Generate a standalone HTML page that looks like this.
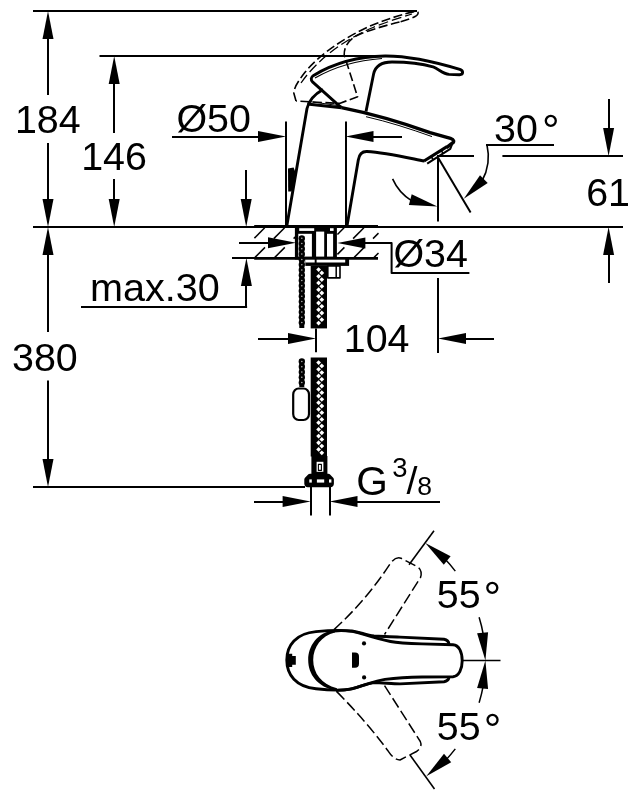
<!DOCTYPE html>
<html><head><meta charset="utf-8"><title>Dimensional drawing</title>
<style>
html,body{margin:0;padding:0;background:#fff}
svg{display:block;filter:grayscale(1)}
svg text{font-family:"Liberation Sans",sans-serif;fill:#000;stroke:none}
</style></head><body>
<svg width="636" height="804" viewBox="0 0 636 804" fill="none" stroke="#000" stroke-linecap="butt" stroke-linejoin="round">
<rect x="0" y="0" width="636" height="804" fill="#fff" stroke="none"/>
<line x1="33" y1="11" x2="417" y2="11" stroke-width="2" />
<line x1="99.5" y1="56" x2="378" y2="56" stroke-width="2" />
<line x1="33" y1="227" x2="623" y2="227" stroke-width="2" />
<line x1="33" y1="487" x2="305" y2="487" stroke-width="2" />
<polygon points="48.0,11.0 53.5,39.0 42.5,39.0" fill="#000" stroke="none"/>
<polygon points="48.0,227.0 42.5,199.0 53.5,199.0" fill="#000" stroke="none"/>
<line x1="48" y1="30" x2="48" y2="95" stroke-width="2" />
<line x1="48" y1="143" x2="48" y2="210" stroke-width="2" />
<polygon points="114.2,56.0 119.7,84.0 108.7,84.0" fill="#000" stroke="none"/>
<polygon points="114.2,227.0 108.7,199.0 119.7,199.0" fill="#000" stroke="none"/>
<line x1="114" y1="80" x2="114" y2="133" stroke-width="2" />
<line x1="114" y1="179" x2="114" y2="210" stroke-width="2" />
<polygon points="48.0,227.0 53.5,255.0 42.5,255.0" fill="#000" stroke="none"/>
<polygon points="48.0,487.0 42.5,459.0 53.5,459.0" fill="#000" stroke="none"/>
<line x1="48" y1="250" x2="48" y2="332" stroke-width="2" />
<line x1="48" y1="380.5" x2="48" y2="470" stroke-width="2" />
<line x1="172" y1="137" x2="270" y2="137" stroke-width="2" />
<polygon points="286.0,136.6 258.0,142.1 258.0,131.1" fill="#000" stroke="none"/>
<line x1="286" y1="121.5" x2="286" y2="226" stroke-width="2" />
<line x1="346" y1="121.5" x2="346" y2="226" stroke-width="2" />
<polygon points="345.5,136.6 373.5,131.1 373.5,142.1" fill="#000" stroke="none"/>
<line x1="365" y1="137" x2="402" y2="137" stroke-width="2" />
<polygon points="246.2,227.0 240.7,199.0 251.7,199.0" fill="#000" stroke="none"/>
<line x1="246" y1="170" x2="246" y2="210" stroke-width="2" />
<polygon points="246.4,258.0 251.9,286.0 240.9,286.0" fill="#000" stroke="none"/>
<line x1="246" y1="280" x2="246" y2="307" stroke-width="2" />
<line x1="81" y1="307" x2="247.1" y2="307" stroke-width="2" />
<line x1="232" y1="258" x2="256" y2="258" stroke-width="2" />
<line x1="239" y1="243" x2="280" y2="243" stroke-width="2" />
<polygon points="296.0,242.8 268.0,248.3 268.0,237.3" fill="#000" stroke="none"/>
<polygon points="337.4,243.0 365.4,237.5 365.4,248.5" fill="#000" stroke="none"/>
<path d="M355 243H391.6V272.9H469.4" stroke-width="2" />
<line x1="316" y1="328.4" x2="316" y2="352.3" stroke-width="2" />
<line x1="258" y1="339" x2="300" y2="339" stroke-width="2" />
<polygon points="316.0,338.6 288.0,344.1 288.0,333.1" fill="#000" stroke="none"/>
<line x1="438" y1="278" x2="438" y2="353" stroke-width="2" />
<polygon points="438.0,338.6 466.0,333.1 466.0,344.1" fill="#000" stroke="none"/>
<line x1="460" y1="339" x2="494" y2="339" stroke-width="2" />
<line x1="437" y1="156" x2="474" y2="156" stroke-width="2" />
<line x1="502.4" y1="156" x2="623" y2="156" stroke-width="2" />
<polygon points="608.6,156.0 603.1,128.0 614.1,128.0" fill="#000" stroke="none"/>
<line x1="609" y1="99" x2="609" y2="140" stroke-width="2" />
<polygon points="608.6,227.0 614.1,255.0 603.1,255.0" fill="#000" stroke="none"/>
<line x1="609" y1="250" x2="609" y2="283" stroke-width="2" />
<line x1="486" y1="145" x2="554" y2="145" stroke-width="2" />
<line x1="438" y1="158" x2="438" y2="221.4" stroke-width="2" />
<line x1="438" y1="157.5" x2="470.6" y2="212.5" stroke-width="2" />
<line x1="311" y1="487" x2="311" y2="515.5" stroke-width="2" />
<line x1="330" y1="487" x2="330" y2="515.5" stroke-width="2" />
<line x1="254" y1="502" x2="300" y2="502" stroke-width="2" />
<polygon points="310.6,501.6 282.6,507.1 282.6,496.1" fill="#000" stroke="none"/>
<polygon points="329.5,501.6 357.5,496.1 357.5,507.1" fill="#000" stroke="none"/>
<line x1="350" y1="502" x2="440" y2="502" stroke-width="2" />
<text x="14.9" y="132.8" font-size="39.4" text-anchor="start" >184</text>
<text x="81.2" y="170.4" font-size="39.4" text-anchor="start" >146</text>
<text x="176.4" y="131.8" font-size="39.4" text-anchor="start" >Ø50</text>
<text x="494" y="141.6" font-size="39.4" text-anchor="start" >30</text>
<text x="542" y="146.4" font-size="44" text-anchor="start" >°</text>
<text x="586.2" y="205.8" font-size="39.4" text-anchor="start" >61</text>
<text x="393.4" y="266.9" font-size="39.4" text-anchor="start" >Ø34</text>
<text x="90" y="300.8" font-size="39.6" text-anchor="start" >max.30</text>
<text x="343.8" y="351.9" font-size="39.4" text-anchor="start" >104</text>
<text x="12" y="371" font-size="39.4" text-anchor="start" >380</text>
<text x="356.2" y="494.9" font-size="40.6" text-anchor="start" >G</text>
<text x="392.2" y="477.2" font-size="27.4" text-anchor="start" >3</text>
<text x="417.2" y="494.7" font-size="26.5" text-anchor="start" >8</text>
<text x="406.4" y="494.2" font-size="39.4" text-anchor="start" >/</text>
<text x="436.8" y="608.4" font-size="39.4" text-anchor="start" >55</text>
<text x="483.5" y="613.2" font-size="44" text-anchor="start" >°</text>
<text x="436.8" y="739.9" font-size="39.4" text-anchor="start" >55</text>
<text x="483.8" y="745.4" font-size="44" text-anchor="start" >°</text>
<path d="M392.6 178.9A49 49 0 0 0 411.4 200.6" stroke-width="1.6" />
<polygon points="437.4,206.6 408.9,204.9 411.7,194.3" fill="#000" stroke="none"/>
<path d="M487 145C490 158 488 170 482 181" stroke-width="1.6" />
<polygon points="463.8,198.8 480.0,175.3 487.7,183.1" fill="#000" stroke="none"/>
<line x1="409" y1="564.8" x2="434" y2="530.8" stroke-width="1.6" />
<line x1="410" y1="755" x2="434.5" y2="789" stroke-width="1.6" />
<polygon points="425.3,543.0 450.6,556.2 443.8,564.8" fill="#000" stroke="none"/>
<path d="M444.5 558.6A146 146 0 0 1 455.3 571.1" stroke-width="1.5" />
<path d="M479.1 617.3A146 146 0 0 1 483.3 634.6" stroke-width="1.5" />
<polygon points="485.4,660.6 477.1,633.3 488.1,632.2" fill="#000" stroke="none"/>
<line x1="462.5" y1="660.6" x2="500.5" y2="660.6" stroke-width="1.5" />
<polygon points="485.4,660.6 488.1,689.0 477.1,687.9" fill="#000" stroke="none"/>
<path d="M483.3 685.4A146 146 0 0 1 479.1 702.7" stroke-width="1.5" />
<path d="M455.3 748.9A146 146 0 0 1 444.5 761.4" stroke-width="1.5" />
<polygon points="426.3,776.2 444.0,753.8 451.2,762.2" fill="#000" stroke="none"/>
<path d="M286.8 226 L307 108.5 C308.8 100.5 315 94 323 89.5" stroke-width="2.9" />
<path d="M307.3 104 L341.5 107.8" stroke-width="2.9" />
<path d="M309 101.5 L341.5 106" stroke-width="1.2" />
<path d="M341.5 107.6 C365 112.3 395 120 430 132.6 L450.5 138.4 C454 139.5 454.6 141.7 452 143.4 L446.5 147.7" stroke-width="3.5" />
<path d="M366 116.7 C388 121.7 410 128.7 432 136.6" stroke-width="1.0" />
<path d="M347 226 L358.3 160 C359.2 154.2 362 151.3 367 151.5 C385 152.5 405 157.2 424.5 161.1" stroke-width="2.9" />
<path d="M424 161 L447 146.6" stroke-width="3.1" />
<path d="M427.2 163.6 L450.3 148.9 L452 144.5" stroke-width="2.0" />
<path d="M431.5 157 L433 159.5 M441.5 150.8 L443 153.3" stroke-width="1.6" />
<path d="M341.5 107.8 L312.8 82.2 C310.5 79.8 310.7 77.4 313.6 75.4 C335 62.5 360 56.4 385 56 C410 55.8 437 62.5 459.8 69.4 C463.6 70.8 463.6 74.6 459.5 74.8 L449 74.4 C443 73.8 440 70 433 66.8 C422 63.6 408 62 392 62 C382 62 375.5 65.5 373.6 74 L366 111.5" stroke-width="2.9" />
<path d="M315 78 C336 66 358 60.2 382 58.5" stroke-width="1.2" />
<polygon points="288,168.6 293.6,167.6 295.3,172 294.6,180 291.6,191.5 288.2,191.5" fill="#000" stroke="none"/>
<path d="M296 101 L293.8 93 C294 88 297.5 82 304.8 72.6 C318 55.5 345 37 372 25.2 C388 18.6 404 14 414 11.6 C418.6 10.6 419.2 13.6 416.5 15.6 C413 18 407 20 399.5 22" stroke-width="1.6" stroke-dasharray="9 3.5"/>
<path d="M399.5 22 C385 25.5 368 30.5 357.6 35.2 C349 39.5 344 46.5 344.2 55 L357.6 96.8 L339.5 103.4 L296 101" stroke-width="1.6" stroke-dasharray="9 3.5"/>
<path d="M301 83 C318 58.5 345 39.5 373 27.5 C389 21 402 17 412 14" stroke-width="1.3" stroke-dasharray="10 4"/>
<line x1="254.2" y1="226.4" x2="378" y2="226.4" stroke-width="2.8" />
<line x1="254.2" y1="258.4" x2="378" y2="258.4" stroke-width="2.8" />
<line x1="254.4" y1="238.1" x2="264.7" y2="227.8" stroke-width="1.5" />
<line x1="273.8" y1="238.6" x2="284.6" y2="227.8" stroke-width="1.5" />
<line x1="255.0" y1="257.4" x2="265.0" y2="247.4" stroke-width="1.5" />
<line x1="293.6" y1="238.6" x2="295.5" y2="236.7" stroke-width="1.5" />
<line x1="274.8" y1="257.4" x2="284.8" y2="247.4" stroke-width="1.5" />
<line x1="337.4" y1="234.5" x2="344.1" y2="227.8" stroke-width="1.5" />
<line x1="353.1" y1="238.6" x2="363.9" y2="227.8" stroke-width="1.5" />
<line x1="337.4" y1="254.4" x2="344.4" y2="247.4" stroke-width="1.5" />
<line x1="373.0" y1="238.6" x2="378.5" y2="233.1" stroke-width="1.5" />
<line x1="354.2" y1="257.4" x2="364.2" y2="247.4" stroke-width="1.5" />
<line x1="374.1" y1="257.4" x2="378.5" y2="253.0" stroke-width="1.5" />
<rect x="294.9" y="225.2" width="42" height="34.3" fill="#000" stroke="none"/>
<rect x="299.2" y="228.2" width="15.0" height="2.7" fill="#fff" stroke="none"/>
<rect x="330" y="228.2" width="3.6" height="2.7" fill="#fff" stroke="none"/>
<rect x="298.3" y="233.8" width="13.6" height="22.8" fill="#fff" stroke="none"/>
<rect x="316.1" y="231.6" width="8.1" height="25.0" fill="#fff" stroke="none"/>
<rect x="327" y="233.8" width="6.1" height="22.8" fill="#fff" stroke="none"/>
<rect x="305.3" y="259" width="43.8" height="6.9" fill="#000" stroke="none"/>
<rect x="305.3" y="259.7" width="9.4" height="2.8" fill="#fff" stroke="none"/>
<rect x="316.6" y="259.7" width="28.6" height="2.8" fill="#fff" stroke="none"/>
<rect x="327.8" y="266" width="12.2" height="11.9" fill="#fff" stroke="#000" stroke-width="1.6"/>
<line x1="336.2" y1="266" x2="336.2" y2="278" stroke-width="1.5" />
<line x1="301.8" y1="236.3" x2="301.8" y2="328" stroke-width="5.0" />
<circle cx="301.8" cy="238.30" r="3.15" fill="#000" stroke="none"/>
<circle cx="301.8" cy="238.30" r="0.75" fill="#bbb" stroke="none"/>
<circle cx="301.8" cy="243.57" r="3.15" fill="#000" stroke="none"/>
<circle cx="301.8" cy="243.57" r="0.75" fill="#bbb" stroke="none"/>
<circle cx="301.8" cy="248.84" r="3.15" fill="#000" stroke="none"/>
<circle cx="301.8" cy="248.84" r="0.75" fill="#bbb" stroke="none"/>
<circle cx="301.8" cy="254.11" r="3.15" fill="#000" stroke="none"/>
<circle cx="301.8" cy="254.11" r="0.75" fill="#bbb" stroke="none"/>
<circle cx="301.8" cy="259.38" r="3.15" fill="#000" stroke="none"/>
<circle cx="301.8" cy="259.38" r="0.75" fill="#bbb" stroke="none"/>
<circle cx="301.8" cy="264.65" r="3.15" fill="#000" stroke="none"/>
<circle cx="301.8" cy="264.65" r="0.75" fill="#bbb" stroke="none"/>
<circle cx="301.8" cy="269.92" r="3.15" fill="#000" stroke="none"/>
<circle cx="301.8" cy="269.92" r="0.75" fill="#bbb" stroke="none"/>
<circle cx="301.8" cy="275.19" r="3.15" fill="#000" stroke="none"/>
<circle cx="301.8" cy="275.19" r="0.75" fill="#bbb" stroke="none"/>
<circle cx="301.8" cy="280.46" r="3.15" fill="#000" stroke="none"/>
<circle cx="301.8" cy="280.46" r="0.75" fill="#bbb" stroke="none"/>
<circle cx="301.8" cy="285.73" r="3.15" fill="#000" stroke="none"/>
<circle cx="301.8" cy="285.73" r="0.75" fill="#bbb" stroke="none"/>
<circle cx="301.8" cy="291.00" r="3.15" fill="#000" stroke="none"/>
<circle cx="301.8" cy="291.00" r="0.75" fill="#bbb" stroke="none"/>
<circle cx="301.8" cy="296.27" r="3.15" fill="#000" stroke="none"/>
<circle cx="301.8" cy="296.27" r="0.75" fill="#bbb" stroke="none"/>
<circle cx="301.8" cy="301.54" r="3.15" fill="#000" stroke="none"/>
<circle cx="301.8" cy="301.54" r="0.75" fill="#bbb" stroke="none"/>
<circle cx="301.8" cy="306.81" r="3.15" fill="#000" stroke="none"/>
<circle cx="301.8" cy="306.81" r="0.75" fill="#bbb" stroke="none"/>
<circle cx="301.8" cy="312.08" r="3.15" fill="#000" stroke="none"/>
<circle cx="301.8" cy="312.08" r="0.75" fill="#bbb" stroke="none"/>
<circle cx="301.8" cy="317.35" r="3.15" fill="#000" stroke="none"/>
<circle cx="301.8" cy="317.35" r="0.75" fill="#bbb" stroke="none"/>
<circle cx="301.8" cy="322.62" r="3.15" fill="#000" stroke="none"/>
<circle cx="301.8" cy="322.62" r="0.75" fill="#bbb" stroke="none"/>
<line x1="301.8" y1="359.5" x2="301.8" y2="387" stroke-width="5.0" />
<circle cx="301.8" cy="361.50" r="3.15" fill="#000" stroke="none"/>
<circle cx="301.8" cy="361.50" r="0.75" fill="#bbb" stroke="none"/>
<circle cx="301.8" cy="366.77" r="3.15" fill="#000" stroke="none"/>
<circle cx="301.8" cy="366.77" r="0.75" fill="#bbb" stroke="none"/>
<circle cx="301.8" cy="372.04" r="3.15" fill="#000" stroke="none"/>
<circle cx="301.8" cy="372.04" r="0.75" fill="#bbb" stroke="none"/>
<circle cx="301.8" cy="377.31" r="3.15" fill="#000" stroke="none"/>
<circle cx="301.8" cy="377.31" r="0.75" fill="#bbb" stroke="none"/>
<circle cx="301.8" cy="382.58" r="3.15" fill="#000" stroke="none"/>
<circle cx="301.8" cy="382.58" r="0.75" fill="#bbb" stroke="none"/>
<rect x="293.2" y="388.5" width="15.8" height="31.5" rx="5.5" ry="6" fill="#fff" stroke="#000" stroke-width="2.2"/>
<rect x="310.7" y="265.9" width="16.3" height="62.5" fill="#000" stroke="none"/>
<path d="M318.6 267.20l2.4 2.4l-2.4 2.4l-2.4-2.4z" fill="#fff" stroke="none"/>
<path d="M321.8 270.54l2.4 2.4l-2.4 2.4l-2.4-2.4z" fill="#fff" stroke="none"/>
<path d="M318.6 273.88l2.4 2.4l-2.4 2.4l-2.4-2.4z" fill="#fff" stroke="none"/>
<path d="M321.8 277.22l2.4 2.4l-2.4 2.4l-2.4-2.4z" fill="#fff" stroke="none"/>
<path d="M318.6 280.56l2.4 2.4l-2.4 2.4l-2.4-2.4z" fill="#fff" stroke="none"/>
<path d="M321.8 283.90l2.4 2.4l-2.4 2.4l-2.4-2.4z" fill="#fff" stroke="none"/>
<path d="M318.6 287.24l2.4 2.4l-2.4 2.4l-2.4-2.4z" fill="#fff" stroke="none"/>
<path d="M321.8 290.58l2.4 2.4l-2.4 2.4l-2.4-2.4z" fill="#fff" stroke="none"/>
<path d="M318.6 293.92l2.4 2.4l-2.4 2.4l-2.4-2.4z" fill="#fff" stroke="none"/>
<path d="M321.8 297.26l2.4 2.4l-2.4 2.4l-2.4-2.4z" fill="#fff" stroke="none"/>
<path d="M318.6 300.60l2.4 2.4l-2.4 2.4l-2.4-2.4z" fill="#fff" stroke="none"/>
<path d="M321.8 303.94l2.4 2.4l-2.4 2.4l-2.4-2.4z" fill="#fff" stroke="none"/>
<path d="M318.6 307.28l2.4 2.4l-2.4 2.4l-2.4-2.4z" fill="#fff" stroke="none"/>
<path d="M321.8 310.62l2.4 2.4l-2.4 2.4l-2.4-2.4z" fill="#fff" stroke="none"/>
<path d="M318.6 313.96l2.4 2.4l-2.4 2.4l-2.4-2.4z" fill="#fff" stroke="none"/>
<path d="M321.8 317.30l2.4 2.4l-2.4 2.4l-2.4-2.4z" fill="#fff" stroke="none"/>
<path d="M318.6 320.64l2.4 2.4l-2.4 2.4l-2.4-2.4z" fill="#fff" stroke="none"/>
<rect x="310.7" y="357.5" width="16.3" height="99.0" fill="#000" stroke="none"/>
<path d="M318.6 360.20l2.4 2.4l-2.4 2.4l-2.4-2.4z" fill="#fff" stroke="none"/>
<path d="M321.8 363.54l2.4 2.4l-2.4 2.4l-2.4-2.4z" fill="#fff" stroke="none"/>
<path d="M318.6 366.88l2.4 2.4l-2.4 2.4l-2.4-2.4z" fill="#fff" stroke="none"/>
<path d="M321.8 370.22l2.4 2.4l-2.4 2.4l-2.4-2.4z" fill="#fff" stroke="none"/>
<path d="M318.6 373.56l2.4 2.4l-2.4 2.4l-2.4-2.4z" fill="#fff" stroke="none"/>
<path d="M321.8 376.90l2.4 2.4l-2.4 2.4l-2.4-2.4z" fill="#fff" stroke="none"/>
<path d="M318.6 380.24l2.4 2.4l-2.4 2.4l-2.4-2.4z" fill="#fff" stroke="none"/>
<path d="M321.8 383.58l2.4 2.4l-2.4 2.4l-2.4-2.4z" fill="#fff" stroke="none"/>
<path d="M318.6 386.92l2.4 2.4l-2.4 2.4l-2.4-2.4z" fill="#fff" stroke="none"/>
<path d="M321.8 390.26l2.4 2.4l-2.4 2.4l-2.4-2.4z" fill="#fff" stroke="none"/>
<path d="M318.6 393.60l2.4 2.4l-2.4 2.4l-2.4-2.4z" fill="#fff" stroke="none"/>
<path d="M321.8 396.94l2.4 2.4l-2.4 2.4l-2.4-2.4z" fill="#fff" stroke="none"/>
<path d="M318.6 400.28l2.4 2.4l-2.4 2.4l-2.4-2.4z" fill="#fff" stroke="none"/>
<path d="M321.8 403.62l2.4 2.4l-2.4 2.4l-2.4-2.4z" fill="#fff" stroke="none"/>
<path d="M318.6 406.96l2.4 2.4l-2.4 2.4l-2.4-2.4z" fill="#fff" stroke="none"/>
<path d="M321.8 410.30l2.4 2.4l-2.4 2.4l-2.4-2.4z" fill="#fff" stroke="none"/>
<path d="M318.6 413.64l2.4 2.4l-2.4 2.4l-2.4-2.4z" fill="#fff" stroke="none"/>
<path d="M321.8 416.98l2.4 2.4l-2.4 2.4l-2.4-2.4z" fill="#fff" stroke="none"/>
<path d="M318.6 420.32l2.4 2.4l-2.4 2.4l-2.4-2.4z" fill="#fff" stroke="none"/>
<path d="M321.8 423.66l2.4 2.4l-2.4 2.4l-2.4-2.4z" fill="#fff" stroke="none"/>
<path d="M318.6 427.00l2.4 2.4l-2.4 2.4l-2.4-2.4z" fill="#fff" stroke="none"/>
<path d="M321.8 430.34l2.4 2.4l-2.4 2.4l-2.4-2.4z" fill="#fff" stroke="none"/>
<path d="M318.6 433.68l2.4 2.4l-2.4 2.4l-2.4-2.4z" fill="#fff" stroke="none"/>
<path d="M321.8 437.02l2.4 2.4l-2.4 2.4l-2.4-2.4z" fill="#fff" stroke="none"/>
<path d="M318.6 440.36l2.4 2.4l-2.4 2.4l-2.4-2.4z" fill="#fff" stroke="none"/>
<path d="M321.8 443.70l2.4 2.4l-2.4 2.4l-2.4-2.4z" fill="#fff" stroke="none"/>
<path d="M318.6 447.04l2.4 2.4l-2.4 2.4l-2.4-2.4z" fill="#fff" stroke="none"/>
<path d="M321.8 450.38l2.4 2.4l-2.4 2.4l-2.4-2.4z" fill="#fff" stroke="none"/>
<rect x="311.4" y="456" width="16" height="18.5" fill="#000" stroke="none"/>
<rect x="316.6" y="461.8" width="6.8" height="10" fill="#fff" stroke="none"/>
<rect x="318.4" y="464.4" width="3" height="6" fill="#fff" stroke="#000" stroke-width="1.1"/>
<path d="M304.3 479.4 Q304.4 478.4 305 477.8 L308.4 474.2 Q309 473.7 310 473.7 L328.2 473.7 Q329.2 473.7 329.8 474.2 L333.2 477.8 Q333.8 478.4 333.9 479.4 L333.9 483.8 Q333.6 487.2 330.5 487.3 L307.7 487.3 Q304.6 487.2 304.3 483.8Z" fill="#000" stroke="none"/>
<rect x="309.3" y="479.4" width="2.5" height="3.2" fill="#fff" stroke="none"/>
<rect x="316.9" y="479.4" width="7.3" height="3.2" fill="#fff" stroke="none"/>
<rect x="329" y="479.4" width="2.4" height="3.2" fill="#fff" stroke="none"/>
<path d="M286.8 660 C286.8 645 296 633.5 316 631.6 C328 630.4 340 629.8 352 631 C360 632 366 635.2 374 636 C382 636.4 392 636.6 400 637.1 L444 639.3 Q448.5 640 449 644" stroke-width="2.9" />
<path d="M286.8 660 C286.8 675 296 686.8 316 688.8 C328 690.2 340 691.4 352 688.8 C360 687 366 683.6 374 682.6 C382 682.6 392 683.9 400 683.9 L444 681.7 Q448.5 681 449 677.3" stroke-width="2.9" />
<path d="M334.5 629.8 C317 633 308.2 646 308.2 660 C308.2 674 317 687 336.5 690.9 L337 688.3 C321.5 684.5 313.2 673 313.2 660 C313.2 647 321.5 635.5 335 632.4 Z" fill="#000" stroke="none"/>
<path d="M334 631 C345 630 355 631.5 363 634.2 C372 637 381 639.6 390.5 641.5 C397 642.8 405 643.4 422 643.9 L453 644.8 C459 645.2 462.2 652 462.2 660.8 C462.2 669 459 676.2 453 676.7 L422 677 C405 677.4 397 678 385 679.4 C378 680.6 372 682.6 363 685.4 C355 688.4 345 690.6 336 690.4" stroke-width="2.9" />
<path d="M286.2 653.8 h6 v2.2 h3.6 v8.8 h-3.6 v2.2 h-6z" fill="#000" stroke="none"/>
<path d="M352 652.4 h3 a4 4 0 0 1 4 4 v7.4 a4 4 0 0 1 -4 4 h-3z" fill="#000" stroke="none"/>
<circle cx="364" cy="643.4" r="2.1" fill="#000" stroke="none"/>
<circle cx="364.1" cy="677.4" r="2.1" fill="#000" stroke="none"/>
<path d="M334 629.6 Q366.5 600 390.5 563.2 C393.5 559 397 557 401 558.2 L417 566.5 C421 569 422 573 420.5 577.5 L384.5 634.5" stroke-width="1.5" stroke-dasharray="11 4"/>
<path d="M336.5 691.4 Q366 721 388 750.8 C391.5 756 395 759.8 400 760 L416.5 751.5 C420.5 749 422 745 420.3 741.5 L384.5 685.5" stroke-width="1.5" stroke-dasharray="11 4"/>
</svg></body></html>
